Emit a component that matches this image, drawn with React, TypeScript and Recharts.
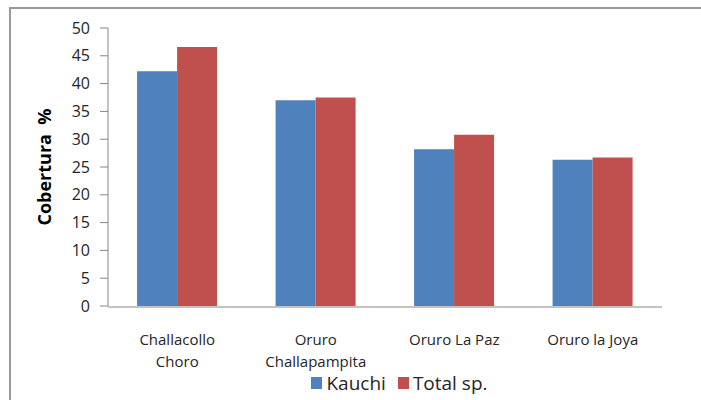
import React from 'react';
import { BarChart, Bar, XAxis, YAxis, Legend } from 'recharts';

const categories = ['Challacollo Choro', 'Oruro Challapampita', 'Oruro La Paz', 'Oruro la Joya'];
const tickLines = [['Challacollo', 'Choro'], ['Oruro', 'Challapampita'], ['Oruro La Paz'], ['Oruro la Joya']];
const kauchi = [42.2, 37.0, 28.2, 26.3];
const totalSp = [46.6, 37.5, 30.8, 26.7];
const yTicks = [0, 5, 10, 15, 20, 25, 30, 35, 40, 45, 50];
const boundaryTicks = [0, 1, 2, 3, 4];

const BLUE = '#4F81BD';
const RED = '#C0504D';
const AXIS = '#868686';
const TEXT = '#262626';
const FONT = '"Open Sans", "Liberation Sans", Arial, sans-serif';

const data = categories.map((c, i) => ({ name: c, idx: i, kauchi: kauchi[i], total: totalSp[i] }));

function CategoryTick(props: any) {
  const { x, y, index } = props;
  const lines = tickLines[index] || [];
  return (
    <text x={x} y={y} textAnchor="middle" fill={TEXT} fontSize={15} fontFamily={FONT}>
      {lines.map((l, i) => (
        <tspan key={i} x={x} dy={i === 0 ? 30 : 22}>{l}</tspan>
      ))}
    </text>
  );
}

function LegendContent() {
  const items = [
    { label: 'Kauchi', color: BLUE },
    { label: 'Total sp.', color: RED },
  ];
  return (
    <div style={{ display: 'flex', justifyContent: 'center', gap: 12, fontFamily: FONT, fontSize: 19, color: TEXT, paddingLeft: 98, height: 26 }}>
      {items.map((it) => (
        <div key={it.label} style={{ display: 'flex', alignItems: 'center' }}>
          <span style={{ display: 'inline-block', width: 11, height: 12, background: it.color, marginRight: 4 }} />
          {it.label}
        </div>
      ))}
    </div>
  );
}

export default function App() {
  return (
    <div style={{ position: 'absolute', left: 0, top: 0, width: 701, height: 400, background: '#fff', overflow: 'hidden' }}>
      <div style={{ position: 'absolute', left: 9, top: 7, width: 700, height: 400, borderLeft: '2px solid #9a9a9a', borderTop: '2px solid #9a9a9a' }} />
      <BarChart
        width={701}
        height={400}
        data={data}
        margin={{ top: 28, right: 39, left: 48, bottom: 8 }}
        barGap={0}
        barCategoryGap="21%"
      >
        <XAxis
          dataKey="name"
          xAxisId="cat"
          axisLine={{ stroke: AXIS }}
          tickLine={false}
          tick={<CategoryTick />}
          interval={0}
          height={59}
        />
        <XAxis
          xAxisId="b"
          type="number"
          dataKey="idx"
          domain={[0, 4]}
          ticks={boundaryTicks}
          axisLine={false}
          tickLine={{ stroke: AXIS }}
          tickSize={7}
          tick={false}
          height={1}
        />
        <YAxis
          domain={[0, 50]}
          ticks={yTicks}
          width={60}
          axisLine={{ stroke: AXIS }}
          tickLine={{ stroke: AXIS }}
          tickSize={8}
          tickMargin={10}
          tick={{ fill: TEXT, fontSize: 16, fontFamily: FONT }}
          label={{
            value: 'Cobertura\u00A0\u00A0%',
            angle: -90,
            position: 'insideLeft',
            dx: -8,
            style: { textAnchor: 'middle', fontWeight: 'bold', fontSize: 18, fill: '#000', fontFamily: FONT },
          }}
        />
        <Legend
          content={<LegendContent />}
          wrapperStyle={{ position: 'absolute', top: 370, left: 0, width: 701 }}
        />
        <Bar xAxisId="cat" dataKey="kauchi" name="Kauchi" fill={BLUE} isAnimationActive={false} />
        <Bar xAxisId="cat" dataKey="total" name="Total sp." fill={RED} isAnimationActive={false} />
      </BarChart>
    </div>
  );
}
